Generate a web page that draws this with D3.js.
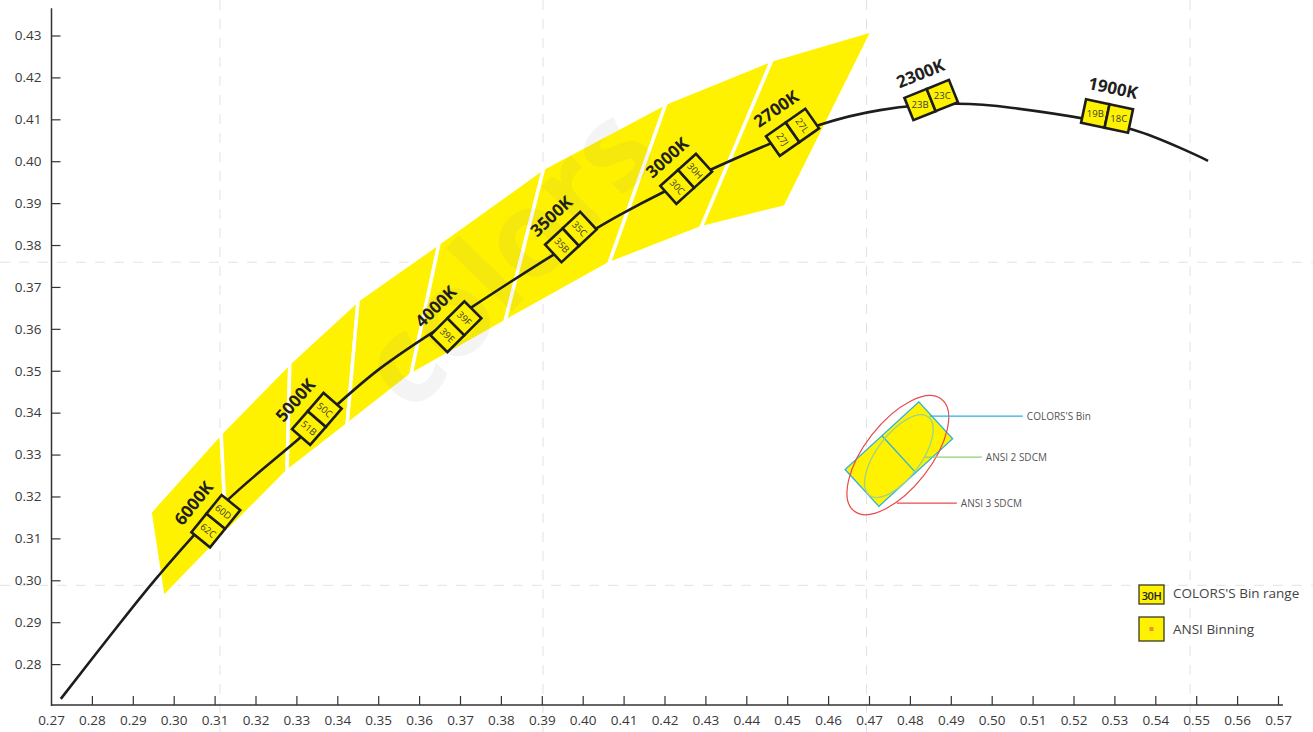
<!DOCTYPE html>
<html><head><meta charset="utf-8">
<script src="https://cdn.jsdelivr.net/npm/d3@7"></script>
<style>
html,body{margin:0;padding:0;background:#fff;}
svg{display:block;font-family:"Open Sans",sans-serif;}
</style></head><body>
<svg id="c" width="1313" height="732"></svg>
<script>
// ---------- DATA ----------
const xTickValues = [0.27,0.28,0.29,0.30,0.31,0.32,0.33,0.34,0.35,0.36,0.37,0.38,0.39,0.40,0.41,0.42,0.43,0.44,0.45,0.46,0.47,0.48,0.49,0.50,0.51,0.52,0.53,0.54,0.55,0.56,0.57];
const yTickValues = [0.28,0.29,0.30,0.31,0.32,0.33,0.34,0.35,0.36,0.37,0.38,0.39,0.40,0.41,0.42,0.43];
const gridX = [0.3113,0.3903,0.4694,0.5485];
const gridY = [0.3759,0.2988];

// Planckian locus (x, y chromaticity)
const locusX = [0.2724,0.2844,0.2962,0.3125,0.3309,0.3504,0.3729,0.3927,0.4091,0.4311,0.4580,0.4727,0.4915,0.5052,0.5346,0.5529];
const locusY = [0.2717,0.2867,0.3010,0.3185,0.3340,0.3505,0.3652,0.3776,0.3872,0.3979,0.4087,0.4122,0.4137,0.4127,0.4075,0.4001];

// Bin range band: upper and lower boundaries, split into segments
const bandTopX = [0.2942,0.3116,0.3284,0.3451,0.3649,0.3905,0.4204,0.4463,0.4710];
const bandTopY = [0.3163,0.3352,0.3519,0.3669,0.3805,0.3984,0.4139,0.4242,0.4313];
const bandBotX = [0.2974,0.3128,0.3277,0.3424,0.3580,0.3810,0.4064,0.4289,0.4495];
const bandBotY = [0.2958,0.3113,0.3259,0.3371,0.3490,0.3617,0.3755,0.3841,0.3891];

// CCT bins
const cctLabels = ["6000K","5000K","4000K","3500K","3000K","2700K","2300K","1900K"];
const binX = [0.3103,0.3350,0.3690,0.3971,0.4253,0.4513,0.4852,0.5282];
const binY = [0.3141,0.3385,0.3605,0.3819,0.3958,0.4069,0.4146,0.4108];
const binCodeA = ["62C","51B","39E","35B","30C","27J","23B","19B"];
const binCodeB = ["60D","50C","39F","35C","30H","27L","23C","18C"];

const legendLabels = ["COLORS'S Bin range","ANSI Binning"];
const insetLabels = ["COLORS'S Bin","ANSI 2 SDCM","ANSI 3 SDCM"];
const insetCenter = [0.4773,0.3301];

// ---------- LAYOUT / STYLE ----------
const W = 1313, H = 732;
const YELLOW = "#fff200", INK = "#1d1d1b";
const binTilt = [-51,-49,-45,-43,-42,-35,-22,12];

const x = d3.scaleLinear().domain([0.27,0.57]).range([51,1278]);
const y = d3.scaleLinear().domain([0.27,0.43]).range([706,35.5]);
const svg = d3.select("#c");

// grid
const grid = svg.append("g").attr("stroke","#e3e3e3").attr("stroke-width",1).attr("stroke-dasharray","10,9");
grid.selectAll("line.gx").data(gridX).join("line").attr("class","gx")
  .attr("x1",d=>x(d)).attr("x2",d=>x(d)).attr("y1",0).attr("y2",H);
grid.selectAll("line.gy").data(gridY).join("line").attr("class","gy")
  .attr("x1",0).attr("x2",W).attr("y1",d=>y(d)).attr("y2",d=>y(d));

// band segments
const segs = d3.range(bandTopX.length-1).map(i=>[
  [bandTopX[i],bandTopY[i]],[bandTopX[i+1],bandTopY[i+1]],
  [bandBotX[i+1],bandBotY[i+1]],[bandBotX[i],bandBotY[i]]]);
svg.append("g").selectAll("path").data(segs).join("path")
  .attr("d",d=>"M"+d.map(p=>x(p[0])+","+y(p[1])).join("L")+"Z")
  .attr("fill",YELLOW).attr("stroke","#fff").attr("stroke-width",3.5).attr("stroke-linejoin","miter");

// watermark
svg.append("text")
  .attr("transform",`translate(${x(0.3830)},${y(0.3755)}) rotate(-46)`)
  .attr("text-anchor","middle").attr("dominant-baseline","middle")
  .attr("font-size",120).attr("font-weight",700).attr("fill","#8a8a8a").attr("opacity",0.09)
  .text("colors");

// locus
const pts = locusX.map((v,i)=>[v,locusY[i]]);
svg.append("path").datum(pts)
  .attr("d",d3.line().x(d=>x(d[0])).y(d=>y(d[1])).curve(d3.curveCatmullRom.alpha(0.5)))
  .attr("fill","none").attr("stroke",INK).attr("stroke-width",2.6);

// axes
const ax = svg.append("g").attr("transform",`translate(0,${y(0.27)-1})`)
  .call(d3.axisBottom(x).tickValues(xTickValues).tickFormat(d3.format(".2f")).tickSize(-9).tickSizeOuter(0).tickPadding(10));
ax.select(".domain").remove();
ax.selectAll(".tick line").attr("stroke","#333").attr("stroke-width",1.2);
ax.selectAll("text").attr("font-size",13.5).attr("fill","#3a3a3a").attr("font-family","Open Sans");
ax.selectAll(".tick").filter(d=>d===0.27).select("line").remove();
svg.append("line").attr("x1",x(0.27)).attr("x2",x(0.5712)).attr("y1",y(0.27)-1).attr("y2",y(0.27)-1)
  .attr("stroke","#333").attr("stroke-width",1.5);

const ay = svg.append("g").attr("transform",`translate(${x(0.27)+0.5},0)`)
  .call(d3.axisLeft(y).tickValues(yTickValues).tickFormat(d3.format(".2f")).tickSize(-9).tickSizeOuter(0).tickPadding(10));
ay.select(".domain").remove();
ay.selectAll(".tick line").attr("stroke","#333").attr("stroke-width",1.2);
ay.selectAll("text").attr("font-size",13.5).attr("fill","#3a3a3a").attr("font-family","Open Sans");
svg.append("line").attr("x1",x(0.27)+0.5).attr("x2",x(0.27)+0.5).attr("y1",y(0.4365)).attr("y2",y(0.27))
  .attr("stroke","#333").attr("stroke-width",1.5);

// bins
const S = 24;
cctLabels.forEach((lab,i)=>{
  const a = binTilt[i];
  const g = svg.append("g").attr("transform",`translate(${x(binX[i])},${y(binY[i])}) rotate(${a})`);
  [[-S,binCodeA[i]],[0,binCodeB[i]]].forEach(([ox,code])=>{
    g.append("rect").attr("x",ox).attr("y",-S/2).attr("width",S).attr("height",S)
      .attr("fill",YELLOW).attr("stroke",INK).attr("stroke-width",2.6);
    const ta = Math.abs(a) > 25 ? 90 : -a;
    g.append("text").attr("transform",`translate(${ox+S/2},0) rotate(${ta})`)
      .attr("text-anchor","middle").attr("dominant-baseline","central")
      .attr("font-size",9.5).attr("fill","#3a3a3a").text(code);
  });
  g.append("text").attr("x",0).attr("y",-29)
    .attr("text-anchor","middle").attr("dominant-baseline","central")
    .attr("font-size",17).attr("font-weight",700).attr("fill","#231f20").text(lab);
});

// inset illustration
const cx = x(insetCenter[0]), cy = y(insetCenter[1]);
const ins = svg.append("g");
const ig = ins.append("g").attr("transform",`translate(${cx},${cy}) rotate(-42.5)`);
ig.append("rect").attr("x",-50).attr("y",-25).attr("width",100).attr("height",50)
  .attr("fill",YELLOW).attr("stroke","#2ab0e4").attr("stroke-width",1.3);
ig.append("line").attr("x1",0).attr("x2",0).attr("y1",-25).attr("y2",25).attr("stroke","#2ab0e4").attr("stroke-width",1.3);
ins.append("ellipse").attr("transform",`translate(${cx},${cy+2}) rotate(-53)`)
  .attr("rx",49).attr("ry",22).attr("fill","none").attr("stroke","#9fd38a").attr("stroke-width",1.3);
ins.append("ellipse").attr("transform",`translate(${cx-1},${cy+1}) rotate(-52)`)
  .attr("rx",71).attr("ry",33).attr("fill","none").attr("stroke","#ea4a4a").attr("stroke-width",1.2);
const leaders = [
  {c:"#2ab0e4", x1:31, x2:124, dy:-38},
  {c:"#8fcf7a", x1:26, x2:83, dy:3},
  {c:"#ea4a4a", x1:-2, x2:58, dy:49}
];
leaders.forEach((l,i)=>{
  ins.append("line").attr("x1",cx+l.x1).attr("x2",cx+l.x2).attr("y1",cy+l.dy).attr("y2",cy+l.dy)
    .attr("stroke",l.c).attr("stroke-width",1.2);
  ins.append("text").attr("x",cx+l.x2+4).attr("y",cy+l.dy).attr("dominant-baseline","central")
    .attr("font-size",10).attr("fill","#555").text(insetLabels[i]);
});

// legend
const lg = svg.append("g").attr("transform","translate(1139,585)");
lg.append("rect").attr("x",0).attr("y",0).attr("width",25).attr("height",19)
  .attr("fill",YELLOW).attr("stroke","#3a3a20").attr("stroke-width",1.3);
lg.append("text").attr("x",12.5).attr("y",10).attr("text-anchor","middle").attr("dominant-baseline","central")
  .attr("font-size",11).attr("font-weight",600).attr("fill","#222").attr("letter-spacing",-0.5).text("30H");
lg.append("rect").attr("x",0).attr("y",32).attr("width",25).attr("height",24)
  .attr("fill",YELLOW).attr("stroke","#3a3a20").attr("stroke-width",1.3);
lg.append("rect").attr("x",10.5).attr("y",42).attr("width",4).attr("height",4).attr("fill","#f08a3c");
lg.selectAll("text.lt").data(legendLabels).join("text").attr("class","lt")
  .attr("x",34).attr("y",(d,i)=>i===0?8:44).attr("dominant-baseline","central")
  .attr("font-size",13.5).attr("fill","#444").text(d=>d);
</script>
</body></html>
